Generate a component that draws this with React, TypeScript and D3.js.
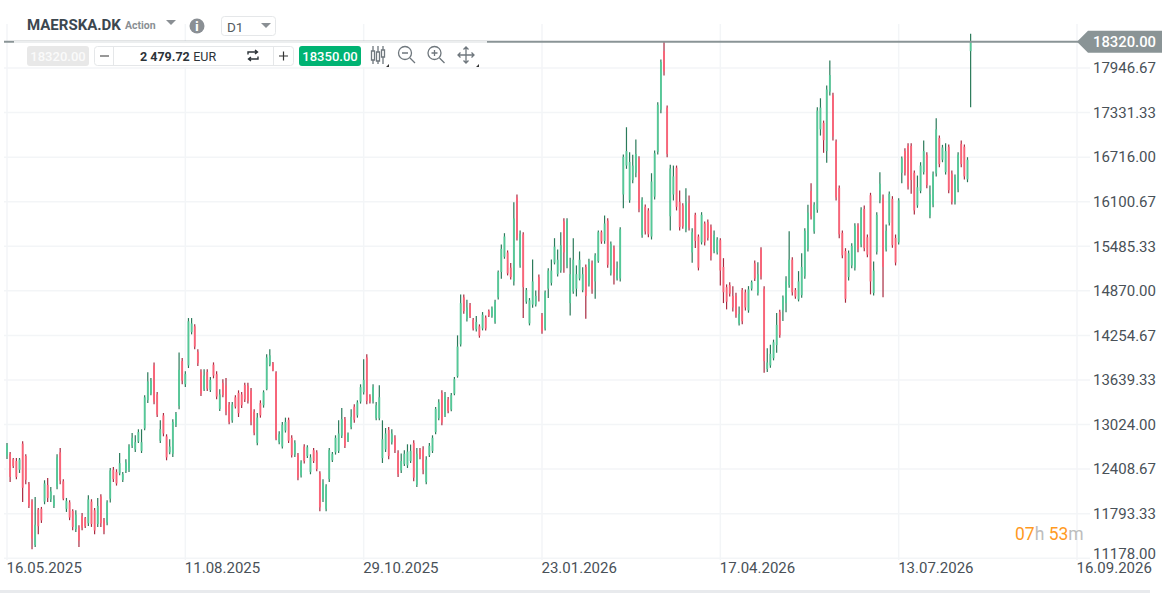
import { useEffect, useRef } from "react";
import * as d3 from "d3";

const priceTicks = [17946.67, 17331.33, 16716.0, 16100.67, 15485.33, 14870.0, 14254.67, 13639.33, 13024.0, 12408.67, 11793.33, 11178.0];
const dateLabels = ["16.05.2025", "11.08.2025", "29.10.2025", "23.01.2026", "17.04.2026", "13.07.2026", "16.09.2026"];
const dateIndexes = [0, 57, 114, 171, 228, 285, 342];
const lastPrice = 18320;

const highs = [
  12769, 12645, 12562, 12562, 12562, 12792, 12613, 12231, 11992, 12024, 11872, 11886, 12254, 12286, 12162, 12047, 12613, 12700, 12268, 12010,
  11978, 11854, 11840, 11634, 11803, 11748, 12047, 11992, 11872, 12010, 12061, 11734, 11978, 12424, 12438, 12406, 12631, 12369, 12544, 12751,
  12907, 12875, 12958, 12958, 13427, 13745, 13666, 13882, 13473, 13082, 13183, 12889, 12820, 13096, 13197, 14020, 13942, 13758, 14494, 14494,
  14407, 14062, 13786, 13786, 13786, 13680, 13882, 13758, 13510, 13648, 13666, 13335, 13335, 13427, 13496, 13473, 13602, 13602, 13528, 13234,
  13183, 13358, 13496, 13993, 14062, 13887, 13758, 12930, 13059, 13119, 13119, 12875, 12806, 12631, 12530, 12751, 12737, 12613, 12700, 12668,
  12379, 12268, 12199, 12700, 12645, 12875, 13082, 13252, 13128, 12913, 13234, 13303, 13358, 13579, 13924, 13993, 13441, 13579, 13335, 13565,
  13082, 12976, 12990, 12958, 12875, 12668, 12623, 12668, 12751, 12747, 12806, 12700, 12700, 12723, 12586, 12769, 12875, 13266, 13372, 13496,
  13473, 13404, 13459, 13680, 14255, 14821, 14821, 14748, 14701, 14494, 14521, 14407, 14577, 14531, 14614, 14655, 14748, 15152, 15511, 15666,
  15428, 15253, 16094, 16200, 15704, 15680, 14908, 14770, 15304, 14876, 15097, 14563, 14876, 15183, 15304, 15597, 15442, 15680, 15873, 15873,
  15327, 15597, 15221, 15414, 15197, 15235, 15313, 15290, 15390, 15704, 15704, 15910, 15873, 15552, 15497, 15276, 15749, 16752, 17129, 16784,
  16748, 16959, 16729, 16163, 16062, 16011, 16494, 16807, 17474, 18063, 18320, 17428, 16610, 16600, 16600, 16256, 16080, 16287, 16187, 15735,
  15948, 15648, 15956, 15828, 15855, 15786, 15704, 15611, 15597, 15321, 14959, 14990, 14935, 14844, 14655, 14908, 14890, 14935, 15014, 15290,
  15266, 15473, 14935, 14076, 14127, 14196, 14563, 14610, 14807, 15073, 15694, 15335, 14908, 15142, 15390, 15735, 16058, 16356, 16094, 17405,
  17529, 17221, 17704, 18049, 17604, 16959, 16325, 15704, 15459, 15428, 15528, 15804, 15804, 16025, 16049, 15648, 16224, 15276, 15956, 16508,
  16200, 15786, 16242, 16177, 15648, 16149, 16725, 16839, 16908, 16908, 16531, 16462, 16646, 16945, 16784, 16325, 16518, 17253, 17014, 16886,
  16908, 16890, 16531, 16476, 16784, 16945, 16890, 16715, 18420,
];

const lows = [
  12548, 12231, 12424, 12268, 12355, 11955, 12199, 11872, 11302, 11334, 11509, 11665, 11923, 11955, 11955, 11872, 12130, 12199, 11978, 11817,
  11703, 11564, 11541, 11334, 11564, 11596, 11624, 11610, 11509, 11610, 11610, 11509, 11634, 11947, 12231, 12181, 12323, 12231, 12355, 12369,
  12700, 12645, 12769, 12631, 12944, 13321, 13427, 13303, 13128, 12769, 12861, 12530, 12613, 12576, 12990, 13234, 13579, 13542, 13804, 14269,
  14062, 13831, 13417, 13486, 13486, 13473, 13662, 13372, 13210, 13400, 13151, 13027, 13050, 13244, 13128, 13252, 13335, 13313, 13013, 12875,
  12737, 13119, 13257, 13496, 13827, 13758, 12806, 12751, 12692, 12913, 12769, 12568, 12576, 12254, 12292, 12485, 12562, 12337, 12493, 12379,
  11827, 11955, 11827, 12231, 12507, 12609, 12631, 12838, 12700, 12783, 12958, 13050, 13119, 13313, 13437, 13303, 13313, 13313, 13082, 13082,
  12493, 12645, 12544, 12747, 12631, 12300, 12355, 12452, 12424, 12493, 12241, 12162, 12544, 12337, 12199, 12576, 12631, 12889, 13082, 13013,
  13128, 13179, 13206, 13427, 13671, 14103, 14554, 14448, 14494, 14324, 14310, 14223, 14324, 14324, 14508, 14499, 14416, 14752, 15037, 15313,
  15083, 15028, 14945, 15566, 15189, 14494, 14692, 14393, 14637, 14655, 14724, 14278, 14324, 14770, 14945, 15235, 15069, 15120, 15120, 15183,
  14531, 14830, 14793, 15014, 14852, 14485, 14931, 14830, 14761, 15258, 15520, 15520, 15189, 15083, 14959, 15014, 15000, 16011, 16555, 16086,
  16356, 16439, 15956, 15603, 15648, 15611, 15579, 16131, 16752, 17322, 17842, 16715, 15704, 16118, 15980, 15704, 15727, 15680, 15704, 15258,
  15460, 15152, 15510, 15497, 15566, 15290, 15390, 15373, 14945, 14701, 14614, 14793, 14586, 14499, 14393, 14407, 14600, 14568, 14876, 15005,
  14807, 15028, 13740, 13749, 13809, 13910, 14016, 14223, 14452, 14576, 14913, 14807, 14761, 14724, 14775, 15037, 15414, 15855, 15658, 15948,
  17014, 16776, 16638, 17566, 16945, 16118, 15597, 15321, 14706, 15014, 15183, 15152, 15404, 15473, 15418, 15335, 14821, 14807, 15373, 16080,
  14783, 15414, 15773, 15465, 15221, 15510, 16356, 16463, 16269, 16210, 15924, 16017, 16218, 16476, 16287, 15873, 16025, 16449, 16577, 16646,
  16476, 16218, 16062, 16062, 16232, 16577, 16407, 16370, 17405,
];

const opens = [
  12590, 12620, 12545, 12520, 12400, 12760, 12590, 12200, 11960, 11360, 11850, 11860, 11960, 12190, 11990, 11900, 12170, 12640, 12240, 11860,
  11950, 11830, 11580, 11600, 11760, 11730, 11660, 11960, 11840, 11650, 12030, 11700, 11670, 12000, 12400, 12370, 12350, 12260, 12380, 12400,
  12730, 12680, 12790, 12660, 12970, 13360, 13450, 13840, 13440, 12800, 13150, 12860, 12640, 12620, 13020, 13280, 13900, 13580, 13840, 14300,
  14380, 14030, 13750, 13510, 13750, 13500, 13850, 13720, 13240, 13600, 13560, 13300, 13080, 13400, 13460, 13440, 13570, 13560, 13490, 13200,
  12770, 13320, 13290, 13510, 13850, 13870, 13740, 12780, 12720, 12940, 13090, 12840, 12610, 12600, 12320, 12720, 12590, 12370, 12670, 12640,
  12350, 12000, 11860, 12270, 12530, 12640, 12660, 12870, 13100, 12800, 12990, 13270, 13150, 13340, 13470, 13950, 13410, 13350, 13110, 13110,
  12560, 12680, 12950, 12780, 12840, 12630, 12390, 12480, 12460, 12520, 12770, 12190, 12670, 12680, 12230, 12600, 12660, 12920, 13110, 13460,
  13160, 13370, 13230, 13450, 13690, 14130, 14780, 14480, 14670, 14470, 14340, 14380, 14350, 14500, 14590, 14520, 14440, 14780, 15130, 15340,
  15400, 15190, 15000, 16160, 15220, 15650, 14720, 14420, 14680, 14680, 15060, 14530, 14350, 14900, 14980, 15260, 15100, 15150, 15830, 15220,
  14700, 14860, 14900, 15040, 14880, 15200, 14960, 15250, 15000, 15280, 15680, 15560, 15840, 15110, 15460, 15040, 15040, 16200, 16600, 16120,
  16400, 16500, 16700, 15640, 16030, 15980, 15620, 16170, 16790, 17370, 18180, 17400, 15900, 16200, 16570, 16100, 16050, 15720, 16080, 15400,
  15920, 15620, 15540, 15800, 15820, 15750, 15420, 15400, 15570, 15200, 14920, 14950, 14800, 14800, 14420, 14880, 14850, 14600, 14900, 15250,
  14840, 15440, 14900, 13790, 13840, 13940, 14120, 14580, 14600, 14700, 14950, 15300, 14880, 14750, 14810, 15070, 15450, 16250, 15690, 15990,
  17100, 17190, 16800, 17620, 17570, 16930, 16290, 15670, 15420, 15060, 15220, 15190, 15770, 15510, 16000, 15610, 16190, 14840, 15410, 16120,
  16150, 15440, 15810, 16140, 15600, 15540, 16500, 16800, 16870, 16870, 16500, 16050, 16250, 16510, 16750, 15910, 16060, 16490, 16980, 16680,
  16510, 16860, 16490, 16100, 16270, 16900, 16860, 16410, 18180,
];

const closes = [
  12740, 12300, 12450, 12300, 12540, 12150, 12260, 11900, 11450, 11640, 11620, 11700, 12210, 12010, 12100, 11990, 12570, 12250, 12000, 11970,
  11740, 11610, 11780, 11420, 11600, 11620, 11990, 11650, 11560, 11900, 11660, 11560, 11950, 12390, 12270, 12210, 12490, 12340, 12500, 12720,
  12840, 12780, 12920, 12780, 13400, 13620, 13630, 13340, 13160, 12960, 12900, 12570, 12720, 13060, 13170, 13780, 13630, 13720, 14450, 14420,
  14100, 13870, 13450, 13700, 13520, 13640, 13700, 13410, 13440, 13430, 13200, 13060, 13300, 13270, 13180, 13290, 13370, 13350, 13060, 12910,
  13120, 13150, 13470, 13950, 13980, 13770, 12830, 12890, 13020, 13060, 12800, 12600, 12770, 12290, 12500, 12520, 12710, 12570, 12520, 12410,
  11880, 12220, 12170, 12670, 12620, 12840, 12900, 13100, 12730, 12890, 13130, 13090, 13330, 13540, 13640, 13350, 13340, 13540, 13290, 13400,
  12820, 12900, 12590, 12900, 12670, 12340, 12520, 12620, 12650, 12660, 12290, 12620, 12580, 12400, 12540, 12730, 12840, 13240, 13330, 13050,
  13420, 13210, 13430, 13650, 14100, 14700, 14590, 14640, 14520, 14350, 14440, 14250, 14540, 14350, 14530, 14630, 14720, 15130, 15450, 15620,
  15110, 15060, 15870, 15600, 15660, 14920, 14880, 14740, 15000, 14800, 14880, 14310, 14850, 15150, 15150, 15480, 15300, 15500, 15400, 15840,
  15100, 15300, 15100, 15300, 15100, 14800, 15270, 14890, 15360, 15680, 15550, 15800, 15230, 15520, 15080, 15180, 15720, 16720, 16800, 16650,
  16600, 16760, 16000, 16130, 15690, 15650, 16380, 16770, 17440, 18030, 17900, 16760, 16560, 16450, 16030, 15750, 15760, 16100, 15740, 15680,
  15560, 15190, 15920, 15540, 15600, 15350, 15640, 15580, 15150, 14850, 14720, 14830, 14640, 14540, 14550, 14450, 14640, 14890, 14990, 15040,
  15100, 15070, 13900, 13880, 14000, 14160, 14400, 14260, 14780, 15000, 15300, 14850, 14790, 15000, 15200, 15700, 15950, 15900, 16060, 17360,
  17400, 16950, 17650, 17850, 17000, 16160, 15650, 15360, 14760, 15390, 15490, 15770, 15450, 15990, 15460, 15370, 15000, 15150, 15920, 16350,
  15200, 15700, 16210, 15500, 15260, 16120, 16700, 16500, 16310, 16400, 15980, 16300, 16600, 16800, 16330, 16200, 16480, 17100, 16620, 16850,
  16800, 16260, 16100, 16440, 16750, 16620, 16450, 16680, 18320,
];

const COLORS = {
  upWick: "#2a7a5a",
  upBody: "#55c998",
  downWick: "#a92a40",
  downBody: "#fb6478",
  grid: "#f3f5f7",
  axis: "#495158",
  price: "#8a9496",
  icon: "#6f777d",
  chrome: "#e5e7e9",
};

const FONT = "Roboto, sans-serif";
const width = 1168;
const height = 593;

export default function App() {
  const svgRef = useRef<SVGSVGElement>(null);

  useEffect(() => {
    if (!svgRef.current) return;
    const svg = d3.select(svgRef.current);
    svg.selectAll("*").remove();

    const xScale = d3.scaleLinear().domain([0, 342]).range([7, 1077]);
    const yScale = d3.scaleLinear().domain([11178, 18320]).range([558.2, 41]);

    // grid
    const grid = svg.append("g");
    grid.selectAll("line.h")
      .data(priceTicks)
      .join("line")
      .attr("class", "h")
      .attr("x1", 4)
      .attr("x2", 1090)
      .attr("y1", (d) => yScale(d))
      .attr("y2", (d) => yScale(d))
      .attr("stroke", COLORS.grid)
      .attr("stroke-width", 1.5);
    grid.selectAll("line.v")
      .data(dateIndexes)
      .join("line")
      .attr("class", "v")
      .attr("x1", (d) => xScale(d))
      .attr("x2", (d) => xScale(d))
      .attr("y1", 24)
      .attr("y2", 560)
      .attr("stroke", COLORS.grid)
      .attr("stroke-width", 1.5);

    // candles
    const candles = svg.append("g");
    const idx = d3.range(highs.length);
    candles.selectAll("line")
      .data(idx)
      .join("line")
      .attr("x1", (i) => xScale(i))
      .attr("x2", (i) => xScale(i))
      .attr("y1", (i) => yScale(highs[i]))
      .attr("y2", (i) => yScale(lows[i]))
      .attr("stroke", (i) => (closes[i] >= opens[i] ? COLORS.upWick : COLORS.downWick))
      .attr("stroke-width", 1.2);
    candles.selectAll("rect")
      .data(idx)
      .join("rect")
      .attr("x", (i) => xScale(i) - 0.9)
      .attr("width", 1.8)
      .attr("y", (i) => yScale(Math.max(opens[i], closes[i])))
      .attr("height", (i) => Math.abs(yScale(opens[i]) - yScale(closes[i])))
      .attr("fill", (i) => (closes[i] >= opens[i] ? COLORS.upBody : COLORS.downBody));

    // last price line and flag
    const py = yScale(lastPrice) + 0.8;
    svg.append("line")
      .attr("x1", 4)
      .attr("x2", 1080)
      .attr("y1", py)
      .attr("y2", py)
      .attr("stroke", COLORS.price)
      .attr("stroke-width", 2);
    svg.append("path")
      .attr("d", `M1077,${py}L1088,${py - 11}H1162V${py + 11}H1088Z`)
      .attr("fill", COLORS.price);
    svg.append("text")
      .attr("x", 1093)
      .attr("y", py + 5.5)
      .attr("font-family", FONT)
      .attr("font-size", 14.8)
      .attr("font-weight", 500)
      .attr("fill", "#fff")
      .text(lastPrice.toFixed(2));

    // axes
    const yAxis = svg.append("g")
      .attr("transform", "translate(1093,0)")
      .call(d3.axisRight(yScale).tickValues(priceTicks).tickSize(0).tickPadding(0).tickFormat((d) => Number(d).toFixed(2)));
    yAxis.select(".domain").remove();
    yAxis.selectAll("text")
      .attr("font-family", FONT)
      .attr("font-size", 15)
      .attr("fill", COLORS.axis);
    // bottom price label sits above its grid line
    yAxis.selectAll<SVGTextElement, number>("text")
      .filter((d) => d === 11178)
      .attr("y", -5);

    const xAxis = svg.append("g")
      .attr("transform", "translate(0,559)")
      .call(d3.axisBottom(xScale).tickValues(dateIndexes).tickSize(0).tickPadding(0).tickFormat((_, i) => dateLabels[i]));
    xAxis.select(".domain").remove();
    xAxis.selectAll("text")
      .attr("font-family", FONT)
      .attr("font-size", 15)
      .attr("fill", COLORS.axis)
      .attr("text-anchor", "start")
      .attr("dy", "0.95em")
      .attr("dx", -1);

    // toolbar
    const bar = svg.append("g").attr("font-family", FONT);
    bar.append("rect").attr("x", 14).attr("y", 41).attr("width", 473).attr("height", 26).attr("fill", "#fff");
    bar.append("line").attr("x1", 14).attr("x2", 487).attr("y1", 42).attr("y2", 42).attr("stroke", "#eceeef").attr("stroke-width", 2);

    bar.append("text").attr("x", 27).attr("y", 30).attr("font-size", 15).attr("font-weight", 700).attr("fill", "#3c474f").text("MAERSKA.DK");
    bar.append("text").attr("x", 125).attr("y", 29).attr("font-size", 10.5).attr("font-weight", 700).attr("fill", "#8a8f94").text("Action");
    bar.append("path").attr("d", "M166,20H176L171,25Z").attr("fill", "#8a8f94");
    bar.append("circle").attr("cx", 197).attr("cy", 26).attr("r", 7.5).attr("fill", "#8a8f94");
    bar.append("text").attr("x", 197).attr("y", 30.5).attr("text-anchor", "middle").attr("font-size", 12).attr("font-weight", 900).attr("fill", "#fff").text("i");
    bar.append("rect").attr("x", 221.5).attr("y", 16.5).attr("width", 54).attr("height", 19).attr("rx", 3).attr("fill", "#fff").attr("stroke", COLORS.chrome);
    bar.append("text").attr("x", 227).attr("y", 32).attr("font-size", 13.5).attr("fill", "#555c62").text("D1");
    bar.append("path").attr("d", "M261,23H271L266,28Z").attr("fill", "#8a8f94");

    bar.append("rect").attr("x", 27).attr("y", 46).attr("width", 62).attr("height", 20).attr("rx", 3).attr("fill", "#e8e8e8");
    bar.append("text").attr("x", 58).attr("y", 60.5).attr("text-anchor", "middle").attr("font-size", 13).attr("font-weight", 500).attr("fill", "#fafafa").text("18320.00");

    bar.append("rect").attr("x", 94.5).attr("y", 46.5).attr("width", 199).attr("height", 19).attr("rx", 3).attr("fill", "#fff").attr("stroke", COLORS.chrome);
    bar.append("line").attr("x1", 113.5).attr("x2", 113.5).attr("y1", 47).attr("y2", 65).attr("stroke", COLORS.chrome);
    bar.append("line").attr("x1", 273.5).attr("x2", 273.5).attr("y1", 47).attr("y2", 65).attr("stroke", COLORS.chrome);
    bar.append("path").attr("d", "M100,56H109M279,56H288M283.5,51.5V60.5").attr("stroke", "#333").attr("stroke-width", 1.2).attr("fill", "none");
    const amount = bar.append("text").attr("x", 140).attr("y", 60.5).attr("font-size", 12.5).attr("fill", "#2c3338");
    amount.append("tspan").attr("font-weight", 700).text("2 479.72");
    amount.append("tspan").attr("dx", 3.5).text("EUR");
    bar.append("path").attr("d", "M248,54.5V52H257M255,50L257.5,52L255,54M258,56.5V59H249M251,57L248.5,59L251,61").attr("stroke", "#2c3338").attr("stroke-width", 1.4).attr("fill", "none");

    bar.append("rect").attr("x", 299).attr("y", 46).attr("width", 62).attr("height", 20).attr("rx", 3).attr("fill", "#00b373");
    bar.append("text").attr("x", 330).attr("y", 60.5).attr("text-anchor", "middle").attr("font-size", 13).attr("font-weight", 500).attr("fill", "#fff").text("18350.00");

    // chart tool icons
    const icons = bar.append("g").attr("fill", "none").attr("stroke", COLORS.icon).attr("stroke-width", 1.3);
    icons.append("path").attr("d", "M373,46V64M378,46V64M383,46V64");
    icons.append("path").attr("d", "M371.5,51H374.5V60H371.5ZM376.5,52H379.5V61H376.5ZM381.5,50H384.5V57H381.5Z").attr("fill", "#fff");
    icons.append("circle").attr("cx", 405).attr("cy", 53).attr("r", 6.5);
    icons.append("path").attr("d", "M402,53H408M410,58L415,63");
    icons.append("circle").attr("cx", 434.5).attr("cy", 53).attr("r", 6.5);
    icons.append("path").attr("d", "M431.5,53H437.5M434.5,50V56M439.5,58L444.5,63");
    icons.append("path").attr("d", "M466,47V63M458,55H474M463.5,49.5L466,47L468.5,49.5M463.5,60.5L466,63L468.5,60.5M460.5,52.5L458,55L460.5,57.5M471.5,52.5L474,55L471.5,57.5");
    bar.append("path").attr("d", "M386,67H389V64ZM476,67H479V64Z").attr("fill", "#333");

    // countdown
    const timer = svg.append("text").attr("x", 1015).attr("y", 540).attr("font-family", FONT).attr("font-size", 17.5);
    timer.append("tspan").attr("fill", "#ff9a1f").text("07");
    timer.append("tspan").attr("fill", "#bdbdbd").text("h ");
    timer.append("tspan").attr("fill", "#ff9a1f").text("53");
    timer.append("tspan").attr("fill", "#bdbdbd").text("m");

    svg.append("rect").attr("x", 0).attr("y", 590).attr("width", 1150).attr("height", 3).attr("fill", "#e8eaed");
  }, []);

  return (
    <svg
      ref={svgRef}
      width={width}
      height={height}
      style={{ position: "absolute", left: 0, top: 0, background: "#fff" }}
    />
  );
}
